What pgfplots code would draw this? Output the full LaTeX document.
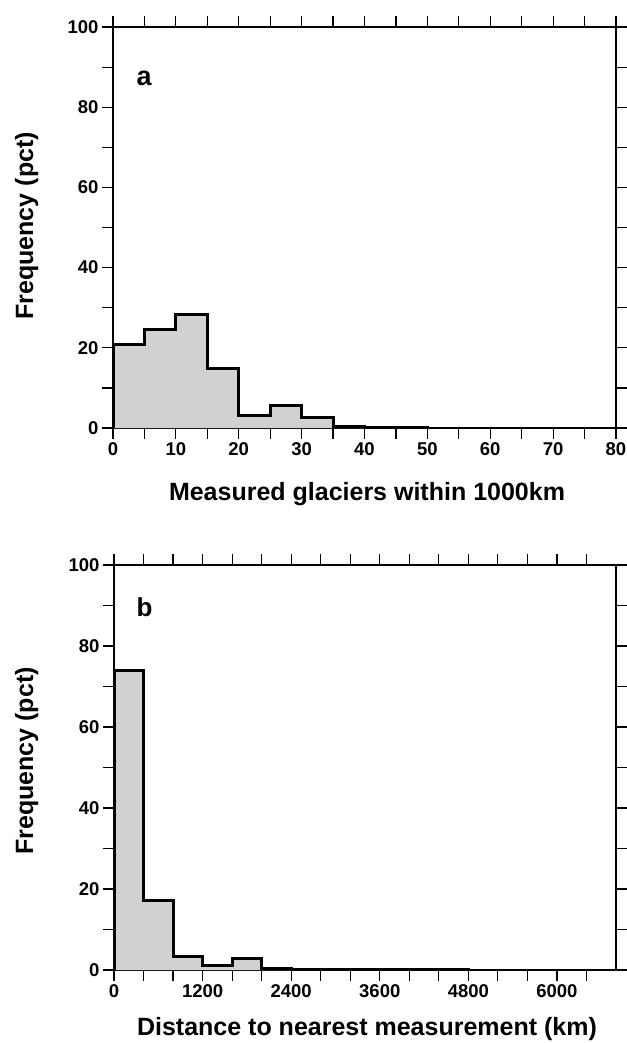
\documentclass[border=0pt]{standalone}
\usepackage{pgfplots}
\pgfplotsset{compat=1.18}
\usepackage{fontspec}
\setmainfont{Liberation Sans}
\definecolor{histfill}{gray}{0.82}
\begin{document}
\begin{tikzpicture}
\useasboundingbox (0pt,0pt) rectangle (626pt,-1043pt);
\pgfplotsset{
  myax/.style={
    scale only axis,
    axis line style={line width=1.4pt},
    tick align=outside,
    major tick length=11pt, minor tick length=11pt,
    every tick/.style={black, line width=1.2pt},
    every minor tick/.style={black, line width=1.2pt},
    ymin=0, ymax=100,
    ytick={0,20,...,100}, minor ytick={10,30,...,90},
    /pgf/number format/assume math mode=true,
    /pgf/number format/1000 sep={},
    scaled ticks=false,
    ticklabel style={font=\bfseries\fontsize{18.5}{18.5}\selectfont},
    label style={font=\bfseries\fontsize{25}{25}\selectfont},
    xlabel style={anchor=base},
    ylabel style={anchor=base},
  },
  histfillst/.style={const plot, fill=histfill, draw=none},
  histline/.style={const plot, draw=black, line width=3pt, line join=miter},
}
% Panel a
\begin{axis}[myax,
  at={(113pt,-428pt)}, anchor=south west,
  width=503pt, height=401pt,
  xmin=0, xmax=80,
  xtick={0,10,...,80}, minor xtick={5,15,...,75},
  xlabel={Measured glaciers within 1000km},
  ylabel={Frequency (pct)},
  xlabel style={at={(axis description cs:0.505,-0.1796)}},
  ylabel style={at={(axis description cs:-0.159,0.504)}},
]
\addplot[histfillst] coordinates {(0,20.9)(5,24.6)(10,28.4)(15,14.9)(20,3.0)(25,5.5)(30,2.7)(35,0.3)(40,0.1)(50,0)} \closedcycle;
\addplot[histline] coordinates {(0,0)(0,20.9)(5,24.6)(10,28.4)(15,14.9)(20,3.0)(25,5.5)(30,2.7)(35,0.3)(40,0.1)(50,0)};
\node[anchor=base west, font=\bfseries\fontsize{27}{27}\selectfont] at (rel axis cs:0.0398,0.853) {a};
\end{axis}
% Panel b
\begin{axis}[myax,
  at={(114pt,-970pt)}, anchor=south west,
  width=502pt, height=405pt,
  xmin=0, xmax=6800,
  xtick={0,1200,...,6000}, minor xtick={400,800,1600,2000,2800,3200,4000,4400,5200,5600,6400},
  xlabel={Distance to nearest measurement (km)},
  ylabel={Frequency (pct)},
  xlabel style={at={(axis description cs:0.504,-0.1605)}},
  ylabel style={at={(axis description cs:-0.161,0.516)}},
]
\addplot[histfillst] coordinates {(0,74.0)(400,17.2)(800,3.3)(1200,1.0)(1600,2.9)(2000,0.4)(2400,0.2)(2800,0.05)(4800,0)} \closedcycle;
\addplot[histline] coordinates {(0,0)(0,74.0)(400,17.2)(800,3.3)(1200,1.0)(1600,2.9)(2000,0.4)(2400,0.2)(2800,0.05)(4800,0)};
\node[anchor=base west, font=\bfseries\fontsize{26}{26}\selectfont] at (rel axis cs:0.0378,0.872) {b};
\end{axis}
\end{tikzpicture}
\end{document}
